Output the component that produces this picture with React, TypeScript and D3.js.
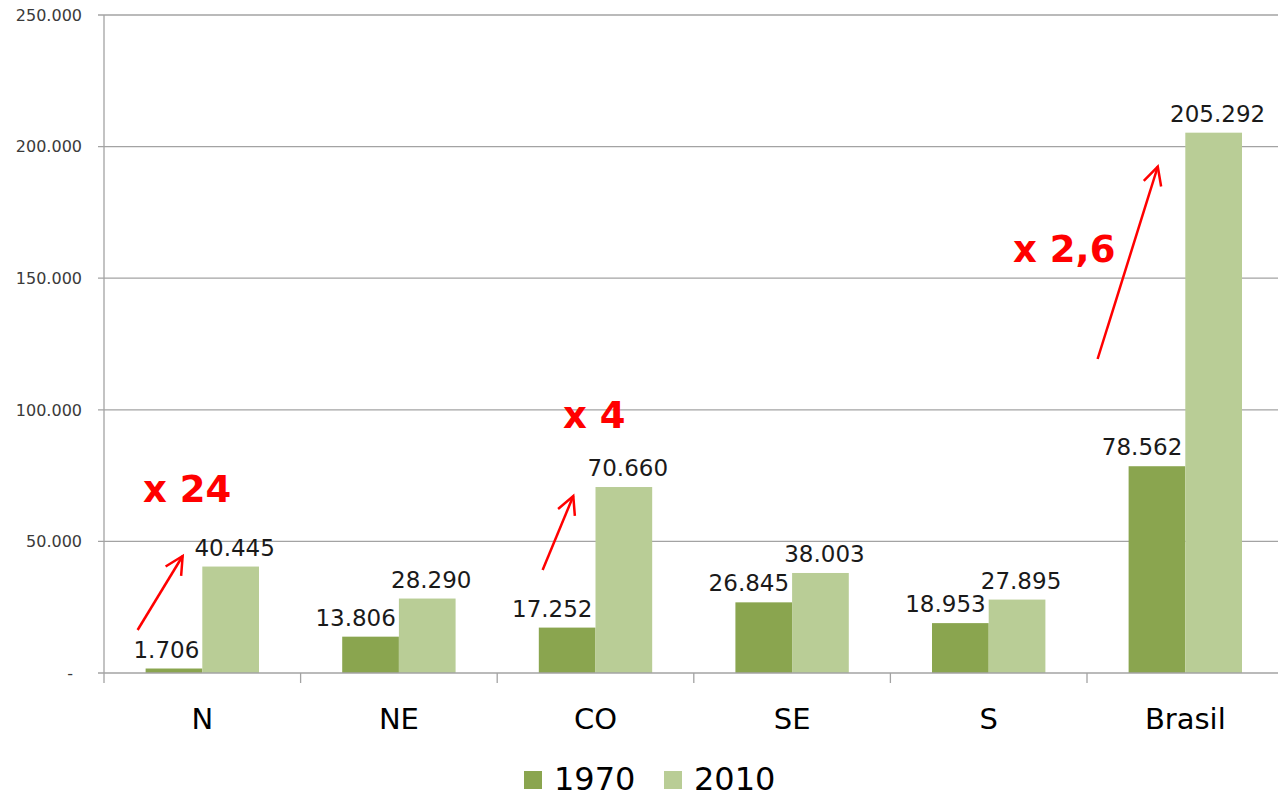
import React from 'react';
import * as d3 from 'd3';

const categories = ['N', 'NE', 'CO', 'SE', 'S', 'Brasil'];
const seriesNames = ['1970', '2010'];
const values1970 = [1706, 13806, 17252, 26845, 18953, 78562];
const values2010 = [40445, 28290, 70660, 38003, 27895, 205292];
const yTicks = [0, 50000, 100000, 150000, 200000, 250000];

// annotations in data space: band fraction for x, value for y
const annotationCats = ['N', 'CO', 'Brasil'];
const annotationTexts = ['x 24', 'x 4', 'x 2,6'];
const annotationTextPos = [[0.198, 64970], [0.335, 93085], [-0.376, 156155]];
const arrowStarts = [[0.171, 16337], [0.231, 39134], [0.054, 119301]];
const arrowEnds = [[0.4, 44453], [0.387, 67249], [0.36, 192363]];

const W = 1278;
const H = 797;
const colors = ['#8aa54f', '#b9cd96'];

const locale = d3.formatLocale({ decimal: ',', thousands: '.', grouping: [3], currency: ['', ''] });
const fmt = locale.format(',');

export default function App() {
  const x = d3.scaleBand<string>().domain(categories).range([104, 1283.6]).paddingInner(0).paddingOuter(0);
  const xs = d3.scaleBand<string>().domain(seriesNames).range([0, x.bandwidth()]).paddingInner(0).paddingOuter(0.734);
  const y = d3.scaleLinear().domain([0, 250000]).range([673, 15]);
  const series = [values1970, values2010];
  const font = '"DejaVu Sans", Verdana, sans-serif';

  const arrowHead = (x1: number, y1: number, x2: number, y2: number) => {
    const ang = Math.atan2(y1 - y2, x1 - x2);
    const len = 20;
    const half = (27 * Math.PI) / 180;
    const a = [x2 + len * Math.cos(ang + half), y2 + len * Math.sin(ang + half)];
    const b = [x2 + len * Math.cos(ang - half), y2 + len * Math.sin(ang - half)];
    return `M${a[0]},${a[1]}L${x2},${y2}L${b[0]},${b[1]}`;
  };

  return (
    <svg width={W} height={H} style={{ position: 'absolute', left: 0, top: 0, background: '#fff' }} fontFamily={font}>
      {/* gridlines */}
      {yTicks.filter((t) => t > 0).map((t) => (
        <line key={'g' + t} x1={98} x2={W} y1={y(t)} y2={y(t)} stroke="#a3a3a3" strokeWidth={1.3} />
      ))}
      {/* y tick labels */}
      {yTicks.map((t) => (
        <text key={'yl' + t} x={t === 0 ? 73 : 82} y={y(t)} dy="0.36em" textAnchor="end" fontSize={16} fill="#3a3a3a">
          {t === 0 ? '-' : fmt(t)}
        </text>
      ))}
      {/* bars */}
      {categories.map((c, i) => (
        <g key={'b' + c}>
          {series.map((vals, s) => (
            <rect
              key={s}
              x={(x(c) as number) + (xs(seriesNames[s]) as number)}
              y={y(vals[i])}
              width={xs.bandwidth()}
              height={y(0) - y(vals[i])}
              fill={colors[s]}
            />
          ))}
        </g>
      ))}
      {/* axes */}
      <line x1={98} x2={W} y1={y(0)} y2={y(0)} stroke="#a3a3a3" strokeWidth={1.3} />
      <line x1={104} x2={104} y1={y(250000)} y2={683} stroke="#a3a3a3" strokeWidth={1.3} />
      {categories.slice(1).map((c) => (
        <line key={'t' + c} x1={x(c) as number} x2={x(c) as number} y1={y(0)} y2={683} stroke="#a3a3a3" strokeWidth={1.3} />
      ))}
      {/* category labels */}
      {categories.map((c) => (
        <text key={'c' + c} x={(x(c) as number) + x.bandwidth() / 2} y={729} textAnchor="middle" fontSize={29} fill="#000">
          {c}
        </text>
      ))}
      {/* data labels */}
      {categories.map((c, i) => (
        <g key={'dl' + c}>
          <text
            x={(x(c) as number) + (xs('1970') as number) + xs.bandwidth() - 3}
            y={y(values1970[i]) - 11}
            textAnchor="end"
            fontSize={23}
            fill="#1a1a1a"
          >
            {fmt(values1970[i])}
          </text>
          <text
            x={(x(c) as number) + (xs('2010') as number) + xs.bandwidth() / 2 + 4}
            y={y(values2010[i]) - 11}
            textAnchor="middle"
            fontSize={23}
            fill="#1a1a1a"
          >
            {fmt(values2010[i])}
          </text>
        </g>
      ))}
      {/* annotations */}
      {annotationCats.map((c, i) => {
        const bx = x(c) as number;
        const bw = x.bandwidth();
        const x1 = bx + arrowStarts[i][0] * bw;
        const y1 = y(arrowStarts[i][1]);
        const x2 = bx + arrowEnds[i][0] * bw;
        const y2 = y(arrowEnds[i][1]);
        return (
          <g key={'a' + c}>
            <line x1={x1} y1={y1} x2={x2} y2={y2} stroke="#ff0000" strokeWidth={2.5} />
            <path d={arrowHead(x1, y1, x2, y2)} fill="none" stroke="#ff0000" strokeWidth={2.5} />
            <text
              x={bx + annotationTextPos[i][0] * bw}
              y={y(annotationTextPos[i][1])}
              fontSize={37}
              fontWeight="bold"
              fill="#ff0000"
            >
              {annotationTexts[i]}
            </text>
          </g>
        );
      })}
      {/* legend */}
      {seriesNames.map((s, i) => (
        <g key={'l' + s} transform={`translate(${524 + i * 140},0)`}>
          <rect x={0} y={771} width={18} height={18} fill={colors[i]} />
          <text x={30} y={790} fontSize={32} fill="#000">
            {s}
          </text>
        </g>
      ))}
    </svg>
  );
}
